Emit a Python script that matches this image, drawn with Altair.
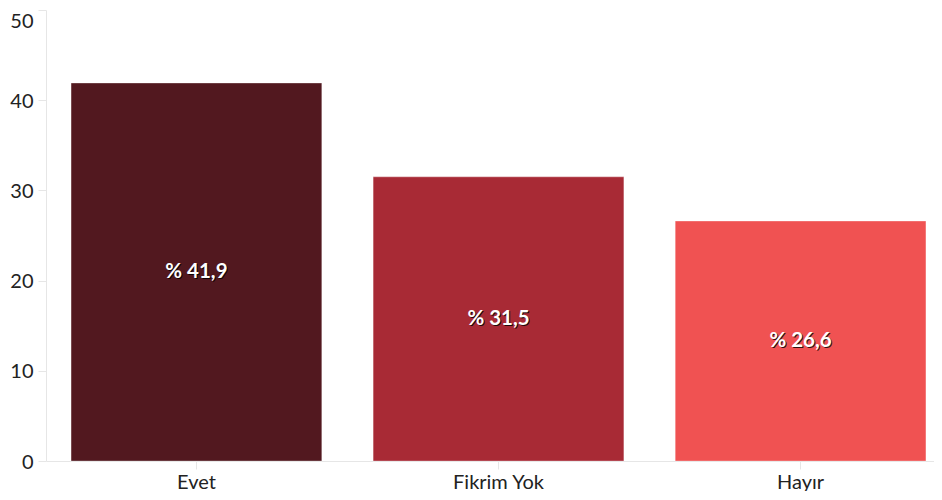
import altair as alt
import pandas as pd

categories = ["Evet", "Fikrim Yok", "Hayır"]
values = [41.9, 31.5, 26.6]
labels = ["% 41,9", "% 31,5", "% 26,6"]
colors = ["#52181f", "#a82a35", "#f05252"]

df = pd.DataFrame({"cat": categories, "val": values, "label": labels})
df["mid"] = df["val"] / 2

FONT = "Lato"

x = alt.X("cat:N", sort=categories, title=None,
          scale=alt.Scale(paddingInner=0.17, paddingOuter=0.083, range=[0, 905]),
          axis=alt.Axis(labelAngle=0, labelFontSize=20, labelColor="#222",
                        domainColor="#e6e6e6", tickColor="#e6e6e6", tickSize=8,
                        labelPadding=3, labelFont=FONT))

bars = alt.Chart(df).mark_bar(stroke="white", strokeOpacity=0.3, strokeWidth=1).encode(
    x=x,
    y=alt.Y("val:Q", title=None, scale=alt.Scale(domain=[0, 50]),
            axis=alt.Axis(values=[0, 10, 20, 30, 40, 50], grid=False, labelFontSize=20,
                          labelColor="#222", domainColor="#e6e6e6", tickColor="#e6e6e6",
                          tickSize=8, labelPadding=5, labelFont=FONT,
                          labelOffset={"condition": {"test": "datum.value == 50", "value": 11},
                                       "value": 1})),
    color=alt.Color("cat:N", sort=categories,
                    scale=alt.Scale(domain=categories, range=colors), legend=None),
)

shadow = alt.Chart(df).mark_text(fontSize=20.5, fontWeight="bold", color="#000",
                                 font=FONT, dx=1, dy=1, opacity=0.8).encode(
    x=alt.X("cat:N", sort=categories), y="mid:Q", text="label:N")
text = alt.Chart(df).mark_text(fontSize=20.5, fontWeight="bold", color="white",
                               font=FONT).encode(
    x=alt.X("cat:N", sort=categories), y="mid:Q", text="label:N")

chart = (bars + shadow + text).properties(
    width=888, height=451,
    autosize=alt.AutoSizeParams(type="none"),
    padding={"left": 38, "top": 2, "right": 0, "bottom": 30},
).configure_view(stroke=None)

chart.save("out.html", embed_options={"renderer": "svg", "actions": False})
